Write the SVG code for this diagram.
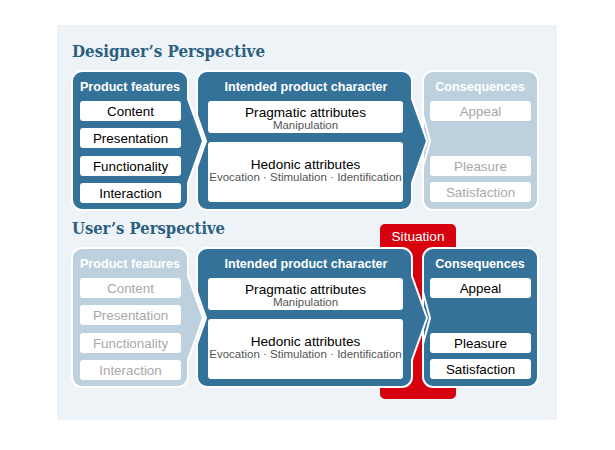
<svg xmlns="http://www.w3.org/2000/svg" width="615" height="450" viewBox="0 0 615 450">
<style>
.bg{fill:#eef3f7;stroke:#e4ebf0;stroke-width:1}
.dark{fill:#34729a;stroke:#fff;stroke-width:2}
.faded{fill:#bcd0dd;stroke:#fff;stroke-width:2}
.ib{fill:#fff}
.hd{font-family:"Liberation Sans",Arial,sans-serif;font-weight:bold;font-size:12.6px;fill:#fff;text-anchor:middle}
.it{font-family:"Liberation Sans",Arial,sans-serif;font-size:13.4px;fill:#000;text-anchor:middle}
.itf{font-family:"Liberation Sans",Arial,sans-serif;font-size:13.4px;fill:#a8a8a8;text-anchor:middle}
.at{font-family:"Liberation Sans",Arial,sans-serif;font-size:13.6px;fill:#000;text-anchor:middle}
.sub{font-family:"Liberation Sans",Arial,sans-serif;font-size:11.5px;fill:#555;text-anchor:middle}
.ttl{font-family:"DejaVu Serif",serif;font-weight:bold;font-size:17.5px;fill:#2b5f80}
.sit{font-family:"Liberation Sans",Arial,sans-serif;font-size:13.6px;fill:#fff;text-anchor:middle}
</style>
<rect class="bg" x="58" y="26" width="498" height="393"/>

<text class="ttl" x="72" y="57" textLength="193" lengthAdjust="spacingAndGlyphs">Designer’s Perspective</text>
<text class="ttl" x="72" y="234" textLength="153" lengthAdjust="spacingAndGlyphs">User’s Perspective</text>

<g id="situation">
<rect x="380" y="224" width="76" height="175" rx="5" fill="#d6000f"/>
<text class="sit" x="418" y="241">Situation</text>
</g>

<g id="connectors"></g>

<!-- Designer row -->
<g id="d-consequences">
<path class="faded" d="M433,71 H528 A10 10 0 0 1 538,81 V200 A10 10 0 0 1 528,210 H433 A10 10 0 0 1 423,200 V115 L430,141 L423,167 V81 A10 10 0 0 1 433,71 Z"/>
<text class="hd" x="480" y="91">Consequences</text>
<rect class="ib" x="430" y="101" width="101" height="20" rx="3"/>
<text class="itf" x="480.5" y="115.5">Appeal</text>
<rect class="ib" x="430" y="156" width="101" height="20" rx="3"/>
<text class="itf" x="480.5" y="170.5">Pleasure</text>
<rect class="ib" x="430" y="182" width="101" height="20" rx="3"/>
<text class="itf" x="480.5" y="196.5">Satisfaction</text>
</g>
<g id="d-character">
<path class="dark" d="M207,71 H402 A10 10 0 0 1 412,81 V99 L427,141 L412,183 V200 A10 10 0 0 1 402,210 H207 A10 10 0 0 1 197,200 V167 L206,141 L197,115 V81 A10 10 0 0 1 207,71 Z"/>
<text class="hd" x="306" y="91">Intended product character</text>
<rect class="ib" x="208" y="101" width="195" height="32" rx="3"/>
<text class="at" x="305.5" y="117">Pragmatic attributes</text>
<text class="sub" x="305.5" y="128.5">Manipulation</text>
<rect class="ib" x="208" y="142" width="195" height="60" rx="3"/>
<text class="at" x="305.5" y="168.5">Hedonic attributes</text>
<text class="sub" x="305.5" y="181">Evocation · Stimulation · Identification</text>
</g>
<g id="d-features">
<path class="dark" d="M82,71 H178 A10 10 0 0 1 188,81 V99 L203,141 L188,183 V200 A10 10 0 0 1 178,210 H82 A10 10 0 0 1 72,200 V81 A10 10 0 0 1 82,71 Z"/>
<text class="hd" x="130" y="91">Product features</text>
<rect class="ib" x="80" y="101" width="101" height="20" rx="3"/>
<text class="it" x="130.5" y="115.5">Content</text>
<rect class="ib" x="80" y="128" width="101" height="20" rx="3"/>
<text class="it" x="130.5" y="142.5">Presentation</text>
<rect class="ib" x="80" y="156" width="101" height="20" rx="3"/>
<text class="it" x="130.5" y="170.5">Functionality</text>
<rect class="ib" x="80" y="183" width="101" height="20" rx="3"/>
<text class="it" x="130.5" y="197.5">Interaction</text>
</g>

<!-- User row -->
<g id="u-consequences">
<path class="dark" d="M433,248 H528 A10 10 0 0 1 538,258 V377 A10 10 0 0 1 528,387 H433 A10 10 0 0 1 423,377 V292 L430,318 L423,344 V258 A10 10 0 0 1 433,248 Z"/>
<text class="hd" x="480" y="268">Consequences</text>
<rect class="ib" x="430" y="278" width="101" height="20" rx="3"/>
<text class="it" x="480.5" y="292.5">Appeal</text>
<rect class="ib" x="430" y="333" width="101" height="20" rx="3"/>
<text class="it" x="480.5" y="347.5">Pleasure</text>
<rect class="ib" x="430" y="359" width="101" height="20" rx="3"/>
<text class="it" x="480.5" y="373.5">Satisfaction</text>
</g>
<g id="u-character">
<path class="dark" d="M207,248 H402 A10 10 0 0 1 412,258 V276 L427,318 L412,360 V377 A10 10 0 0 1 402,387 H207 A10 10 0 0 1 197,377 V344 L206,318 L197,292 V258 A10 10 0 0 1 207,248 Z"/>
<text class="hd" x="306" y="268">Intended product character</text>
<rect class="ib" x="208" y="278" width="195" height="32" rx="3"/>
<text class="at" x="305.5" y="294">Pragmatic attributes</text>
<text class="sub" x="305.5" y="305.5">Manipulation</text>
<rect class="ib" x="208" y="319" width="195" height="60" rx="3"/>
<text class="at" x="305.5" y="345.5">Hedonic attributes</text>
<text class="sub" x="305.5" y="358">Evocation · Stimulation · Identification</text>
</g>
<g id="u-features">
<path class="faded" d="M82,248 H178 A10 10 0 0 1 188,258 V276 L203,318 L188,360 V377 A10 10 0 0 1 178,387 H82 A10 10 0 0 1 72,377 V258 A10 10 0 0 1 82,248 Z"/>
<text class="hd" x="130" y="268">Product features</text>
<rect class="ib" x="80" y="278" width="101" height="20" rx="3"/>
<text class="itf" x="130.5" y="292.5">Content</text>
<rect class="ib" x="80" y="305" width="101" height="20" rx="3"/>
<text class="itf" x="130.5" y="319.5">Presentation</text>
<rect class="ib" x="80" y="333" width="101" height="20" rx="3"/>
<text class="itf" x="130.5" y="347.5">Functionality</text>
<rect class="ib" x="80" y="360" width="101" height="20" rx="3"/>
<text class="itf" x="130.5" y="374.5">Interaction</text>
</g>
</svg>
